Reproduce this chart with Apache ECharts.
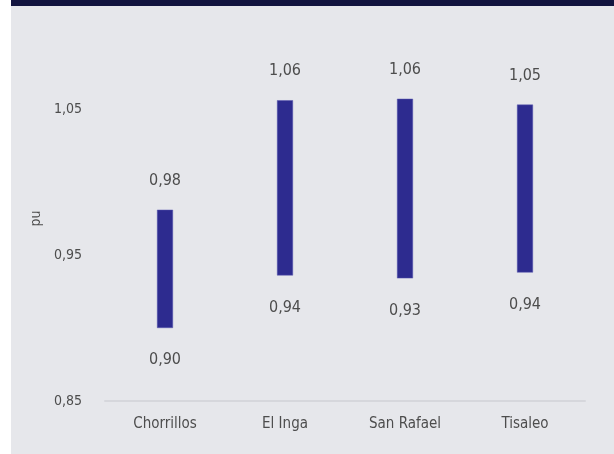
<!DOCTYPE html>
<html>
<head>
<meta charset="utf-8">
<script src="https://cdn.jsdelivr.net/npm/echarts@6/dist/echarts.min.js"></script>
<style>
html,body{margin:0;padding:0;background:#ffffff;}
#chart{width:614px;height:454px;}
</style>
</head>
<body>
<div id="chart"></div>
<script>
const categories = ['Chorrillos', 'El Inga', 'San Rafael', 'Tisaleo'];
const minValues = [0.900, 0.936, 0.934, 0.938];
const maxValues = [0.981, 1.056, 1.057, 1.053];
const yTicks = [0.85, 0.95, 1.05];
const yAxisName = 'pu';

const FONT = '"DejaVu Sans Condensed", "Roboto", sans-serif';
const TXT = '#4d4d4d';
const fmt = v => v.toFixed(2).replace('.', ',');

const chart = echarts.init(document.getElementById('chart'));
chart.setOption({
  backgroundColor: '#ffffff',
  animation: false,
  graphic: [
    { type: 'rect', z: -10, shape: { x: 11, y: 0, width: 603, height: 454 }, style: { fill: '#e6e7eb' } },
    { type: 'rect', z: -9, shape: { x: 11, y: 0, width: 603, height: 6 }, style: { fill: '#12143f' } }
  ],
  grid: { left: 105, right: 29, top: 36, bottom: 53 },
  xAxis: {
    type: 'category',
    data: categories,
    axisLine: { show: true, lineStyle: { color: '#d6d7dc', width: 2 } },
    axisTick: { show: false },
    axisLabel: { color: TXT, fontFamily: FONT, fontSize: 15, margin: 16 }
  },
  yAxis: {
    type: 'value',
    min: 0.85,
    max: 1.10,
    interval: 0.1,
    name: yAxisName,
    nameLocation: 'middle',
    nameRotate: 90,
    nameGap: 62,
    nameTextStyle: { color: TXT, fontFamily: FONT, fontSize: 14 },
    splitLine: { show: false },
    axisLine: { show: false },
    axisTick: { show: false },
    axisLabel: {
      color: TXT, fontFamily: FONT, fontSize: 14, margin: 23,
      formatter: v => yTicks.some(t => Math.abs(t - v) < 1e-6) ? fmt(v) : ''
    }
  },
  series: [
    {
      type: 'bar',
      stack: 'range',
      barWidth: 16,
      itemStyle: { color: 'transparent' },
      label: {
        show: true, position: 'insideTop', distance: 24,
        color: TXT, fontFamily: FONT, fontSize: 16,
        formatter: p => fmt(minValues[p.dataIndex])
      },
      data: minValues
    },
    {
      type: 'bar',
      stack: 'range',
      barWidth: 16,
      itemStyle: { color: '#2d2b8f', borderColor: '#5a59b0', borderWidth: 0.5 },
      label: {
        show: true, position: 'top', distance: 21,
        color: TXT, fontFamily: FONT, fontSize: 16,
        formatter: p => fmt(maxValues[p.dataIndex])
      },
      data: maxValues.map((v, i) => +(v - minValues[i]).toFixed(4))
    }
  ]
});
</script>
</body>
</html>
